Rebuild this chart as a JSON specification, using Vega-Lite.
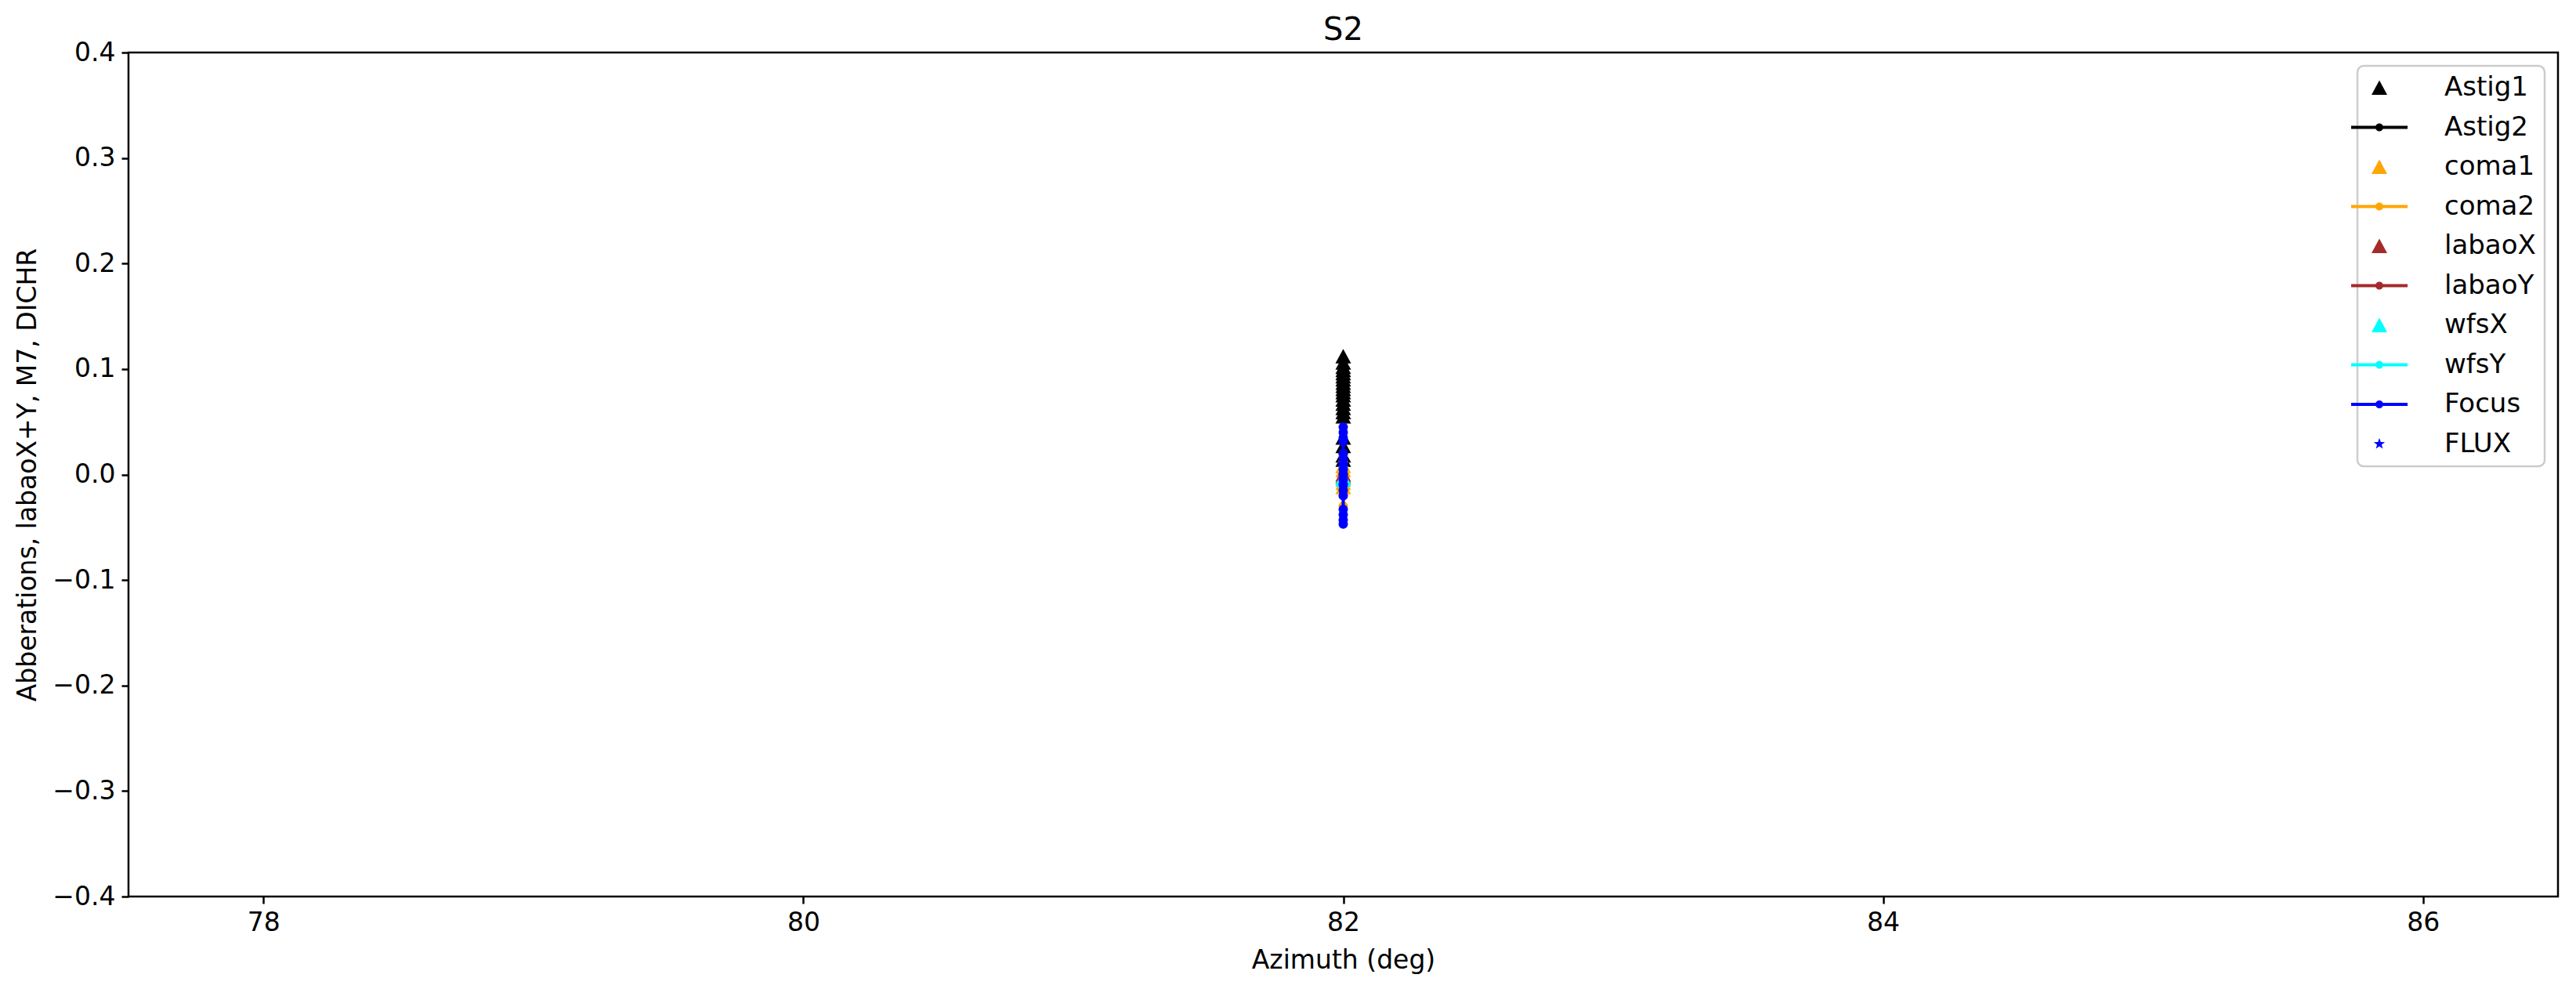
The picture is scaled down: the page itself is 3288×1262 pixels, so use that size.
{
  "$schema": "https://vega.github.io/schema/vega-lite/v6.json",
  "width": 3101,
  "height": 1077,
  "autosize": "none",
  "padding": {"left": 164, "top": 67, "right": 23, "bottom": 118},
  "background": "white",
  "title": {"text": "S2", "fontSize": 40, "font": "DejaVu Sans", "fontWeight": "normal", "color": "black", "offset": -8},
  "config": {
    "font": "DejaVu Sans",
    "view": {"stroke": "black", "strokeWidth": 2.5},
    "axis": {"domain": false, "grid": false, "tickColor": "black", "tickWidth": 2.5, "tickSize": 9, "labelFont": "DejaVu Sans", "labelFontSize": 33, "labelColor": "black", "titleFont": "DejaVu Sans", "titleFontSize": 33, "titleFontWeight": "normal", "titleColor": "black", "labelPadding": 8},
    "legend": {"labelFont": "DejaVu Sans", "labelFontSize": 34, "labelColor": "black", "strokeColor": "#cccccc", "cornerRadius": 8, "fillColor": "white", "padding": 11}
  },
  "data": {"values": [
    {"s": "Astig1", "i": 0, "az": 82, "v": 0.112},
    {"s": "Astig1", "i": 1, "az": 82, "v": 0.106},
    {"s": "Astig1", "i": 2, "az": 82, "v": 0.102},
    {"s": "Astig1", "i": 3, "az": 82, "v": 0.099},
    {"s": "Astig1", "i": 4, "az": 82, "v": 0.096},
    {"s": "Astig1", "i": 5, "az": 82, "v": 0.093},
    {"s": "Astig1", "i": 6, "az": 82, "v": 0.09},
    {"s": "Astig1", "i": 7, "az": 82, "v": 0.087},
    {"s": "Astig1", "i": 8, "az": 82, "v": 0.084},
    {"s": "Astig1", "i": 9, "az": 82, "v": 0.081},
    {"s": "Astig1", "i": 10, "az": 82, "v": 0.078},
    {"s": "Astig1", "i": 11, "az": 82, "v": 0.075},
    {"s": "Astig1", "i": 12, "az": 82, "v": 0.071},
    {"s": "Astig1", "i": 13, "az": 82, "v": 0.067},
    {"s": "Astig1", "i": 14, "az": 82, "v": 0.063},
    {"s": "Astig1", "i": 15, "az": 82, "v": 0.059},
    {"s": "Astig1", "i": 16, "az": 82, "v": 0.055},
    {"s": "Astig1", "i": 17, "az": 82, "v": 0.035},
    {"s": "Astig1", "i": 18, "az": 82, "v": 0.027},
    {"s": "Astig1", "i": 19, "az": 82, "v": 0.018},
    {"s": "Astig1", "i": 20, "az": 82, "v": 0.014},
    {"s": "Astig2", "i": 0, "az": 82, "v": 0.02},
    {"s": "Astig2", "i": 1, "az": 82, "v": 0.012},
    {"s": "Astig2", "i": 2, "az": 82, "v": 0.004},
    {"s": "Astig2", "i": 3, "az": 82, "v": -0.006},
    {"s": "Astig2", "i": 4, "az": 82, "v": -0.015},
    {"s": "coma1", "i": 0, "az": 82, "v": 0.008},
    {"s": "coma1", "i": 1, "az": 82, "v": 0.004},
    {"s": "coma1", "i": 2, "az": 82, "v": 0.0},
    {"s": "coma1", "i": 3, "az": 82, "v": -0.004},
    {"s": "coma1", "i": 4, "az": 82, "v": -0.008},
    {"s": "coma1", "i": 5, "az": 82, "v": -0.012},
    {"s": "coma2", "i": 0, "az": 82, "v": 0.018},
    {"s": "coma2", "i": 1, "az": 82, "v": 0.012},
    {"s": "coma2", "i": 2, "az": 82, "v": 0.005},
    {"s": "coma2", "i": 3, "az": 82, "v": -0.002},
    {"s": "coma2", "i": 4, "az": 82, "v": -0.01},
    {"s": "coma2", "i": 5, "az": 82, "v": -0.02},
    {"s": "coma2", "i": 6, "az": 82, "v": -0.03},
    {"s": "labaoX", "i": 0, "az": 82, "v": 0.0},
    {"s": "labaoX", "i": 1, "az": 82, "v": -0.002},
    {"s": "labaoY", "i": 0, "az": 82, "v": 0.001},
    {"s": "labaoY", "i": 1, "az": 82, "v": -0.003},
    {"s": "wfsX", "i": 0, "az": 82, "v": -0.003},
    {"s": "wfsX", "i": 1, "az": 82, "v": -0.005},
    {"s": "wfsY", "i": 0, "az": 82, "v": 0.006},
    {"s": "wfsY", "i": 1, "az": 82, "v": -0.008},
    {"s": "Focus", "i": 0, "az": 82, "v": 0.045},
    {"s": "Focus", "i": 1, "az": 82, "v": 0.04},
    {"s": "Focus", "i": 2, "az": 82, "v": 0.035},
    {"s": "Focus", "i": 3, "az": 82, "v": 0.031},
    {"s": "Focus", "i": 4, "az": 82, "v": 0.02},
    {"s": "Focus", "i": 5, "az": 82, "v": 0.015},
    {"s": "Focus", "i": 6, "az": 82, "v": 0.01},
    {"s": "Focus", "i": 7, "az": 82, "v": 0.005},
    {"s": "Focus", "i": 8, "az": 82, "v": 0.0},
    {"s": "Focus", "i": 9, "az": 82, "v": -0.005},
    {"s": "Focus", "i": 10, "az": 82, "v": -0.01},
    {"s": "Focus", "i": 11, "az": 82, "v": -0.015},
    {"s": "Focus", "i": 12, "az": 82, "v": -0.02},
    {"s": "Focus", "i": 13, "az": 82, "v": -0.033},
    {"s": "Focus", "i": 14, "az": 82, "v": -0.038},
    {"s": "Focus", "i": 15, "az": 82, "v": -0.043},
    {"s": "Focus", "i": 16, "az": 82, "v": -0.047},
    {"s": "FLUX", "i": 0, "az": 82, "v": 0.01},
    {"s": "FLUX", "i": 1, "az": 82, "v": -0.01}
  ]},
  "encoding": {
    "x": {"field": "az", "type": "quantitative", "title": "Azimuth (deg)", "scale": {"domain": [77.5, 86.5], "nice": false, "zero": false}, "axis": {"values": [78, 80, 82, 84, 86], "format": "d", "titlePadding": 15}},
    "y": {"field": "v", "type": "quantitative", "title": "Abberations, labaoX+Y, M7, DICHR", "scale": {"domain": [-0.4, 0.4], "nice": false, "zero": false}, "axis": {"values": [-0.4, -0.3, -0.2, -0.1, 0, 0.1, 0.2, 0.3, 0.4], "format": ".1f", "titlePadding": 14}},
    "color": {"field": "s", "type": "nominal", "title": null,
      "scale": {"domain": ["Astig1", "Astig2", "coma1", "coma2", "labaoX", "labaoY", "wfsX", "wfsY", "Focus", "FLUX"],
                "range": ["#000000", "#000000", "#ffa500", "#ffa500", "#a52a2a", "#a52a2a", "#00ffff", "#00ffff", "#0000ff", "#0000ff"]},
      "legend": {"orient": "top-right", "offset": 17, "symbolSize": 400, "labelOffset": 66, "rowPadding": 16.5,
        "encode": {"symbols": {"update": {"fill": {"scale": "color", "field": "value"}, "strokeWidth": {"value": 0}, "opacity": {"value": 1}}},
                   "legend": {"update": {"strokeWidth": {"value": 2.5}}}}}
    }
  },
  "layer": [
    {"transform": [{"filter": "datum.s === 'Astig1'"}], "mark": {"type": "point", "filled": true, "opacity": 1, "size": 400},
     "encoding": {"shape": {"field": "s", "type": "nominal", "title": null,
       "scale": {"domain": ["Astig1", "Astig2", "coma1", "coma2", "labaoX", "labaoY", "wfsX", "wfsY", "Focus", "FLUX"],
                 "range": ["M0,-0.95L1,0.9L-1,0.9Z", "M-3.6,-0.2L3.6,-0.2L3.6,0.2L-3.6,0.2ZM0.5,0A0.5,0.5 0 1 1 -0.5,0A0.5,0.5 0 1 1 0.5,0Z", "M0,-0.95L1,0.9L-1,0.9Z", "M-3.6,-0.2L3.6,-0.2L3.6,0.2L-3.6,0.2ZM0.5,0A0.5,0.5 0 1 1 -0.5,0A0.5,0.5 0 1 1 0.5,0Z", "M0,-0.95L1,0.9L-1,0.9Z", "M-3.6,-0.2L3.6,-0.2L3.6,0.2L-3.6,0.2ZM0.5,0A0.5,0.5 0 1 1 -0.5,0A0.5,0.5 0 1 1 0.5,0Z", "M0,-0.95L1,0.9L-1,0.9Z", "M-3.6,-0.2L3.6,-0.2L3.6,0.2L-3.6,0.2ZM0.5,0A0.5,0.5 0 1 1 -0.5,0A0.5,0.5 0 1 1 0.5,0Z", "M-3.6,-0.2L3.6,-0.2L3.6,0.2L-3.6,0.2ZM0.5,0A0.5,0.5 0 1 1 -0.5,0A0.5,0.5 0 1 1 0.5,0Z", "M0,-0.75L0.18,-0.24L0.71,-0.23L0.29,0.09L0.44,0.61L0,0.3L-0.44,0.61L-0.29,0.09L-0.71,-0.23L-0.18,-0.24Z"]}}}},
    {"transform": [{"filter": "datum.s === 'Astig2'"}], "mark": {"type": "line", "strokeWidth": 4, "point": {"filled": true, "size": 144}}, "encoding": {"order": {"field": "i"}}},
    {"transform": [{"filter": "datum.s === 'coma1'"}], "mark": {"type": "point", "filled": true, "opacity": 1, "size": 400}, "encoding": {"shape": {"field": "s", "type": "nominal"}}},
    {"transform": [{"filter": "datum.s === 'coma2'"}], "mark": {"type": "line", "strokeWidth": 4, "point": {"filled": true, "size": 144}}, "encoding": {"order": {"field": "i"}}},
    {"transform": [{"filter": "datum.s === 'labaoX'"}], "mark": {"type": "point", "filled": true, "opacity": 1, "size": 400}, "encoding": {"shape": {"field": "s", "type": "nominal"}}},
    {"transform": [{"filter": "datum.s === 'labaoY'"}], "mark": {"type": "line", "strokeWidth": 4, "point": {"filled": true, "size": 144}}, "encoding": {"order": {"field": "i"}}},
    {"transform": [{"filter": "datum.s === 'wfsX'"}], "mark": {"type": "point", "filled": true, "opacity": 1, "size": 400}, "encoding": {"shape": {"field": "s", "type": "nominal"}}},
    {"transform": [{"filter": "datum.s === 'wfsY'"}], "mark": {"type": "line", "strokeWidth": 4, "point": {"filled": true, "size": 144}}, "encoding": {"order": {"field": "i"}}},
    {"transform": [{"filter": "datum.s === 'Focus'"}], "mark": {"type": "line", "strokeWidth": 4, "point": {"filled": true, "size": 144}}, "encoding": {"order": {"field": "i"}}},
    {"transform": [{"filter": "datum.s === 'FLUX'"}], "mark": {"type": "point", "filled": true, "opacity": 1, "size": 400}, "encoding": {"shape": {"field": "s", "type": "nominal"}}}
  ]
}
